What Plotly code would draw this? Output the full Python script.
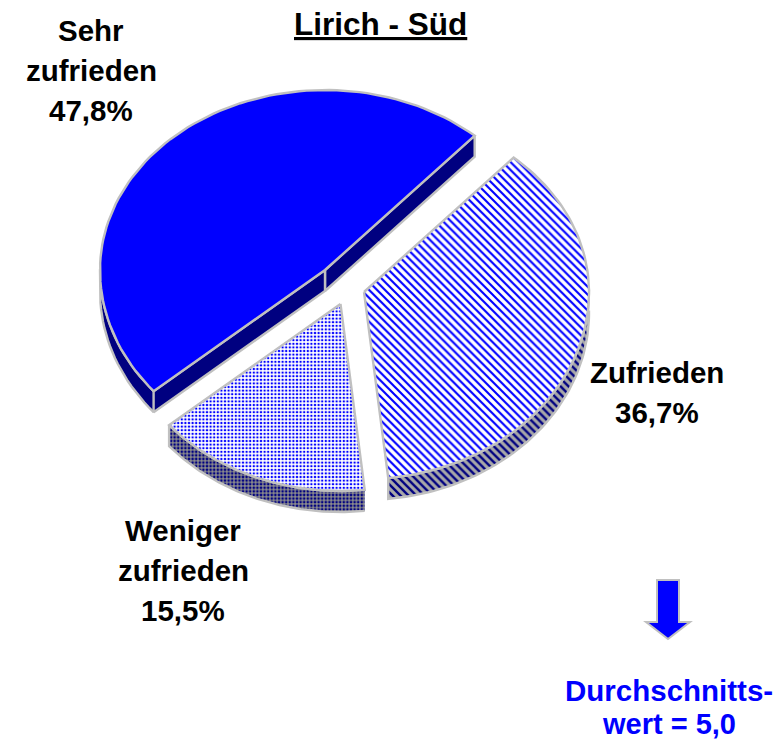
import numpy as np
import plotly.graph_objects as go

# --- data ---
categories = ["Sehr zufrieden", "Zufrieden", "Weniger zufrieden"]
values = [47.8, 36.7, 15.5]
value_labels = ["47,8%", "36,7%", "15,5%"]
title_text = "Lirich - Süd"
note_lines = ["Durchschnitts-", "wert = 5,0"]

# --- style / layout ---
W, H = 782, 741
RX, RY_BACK, RY_FRONT = 225, 180, 187
DEPTH = 21
START = 41.7 - 172.08           # clockwise start angle of the first slice
CENTRES = [(325, 270), (364, 292), (340.5, 304)]
EDGE = "#c0c0c0"
BLUE = "#0000ff"
NAVY = "#000080"
FONT = "Liberation Sans"

def pt(cx, cy, deg):
    t = np.radians(deg)
    c = np.cos(t)
    ry = np.where(c >= 0, RY_BACK, RY_FRONT)
    return cx + RX * np.sin(t), cy - ry * c

def poly(x, y, fill, pattern=None, width=2.4):
    kw = dict(fillpattern=pattern) if pattern else {}
    return go.Scatter(x=list(x), y=list(y), mode="lines", fill="toself", fillcolor=fill,
                      line=dict(color=EDGE, width=width), hoverinfo="skip",
                      showlegend=False, **kw)

fig = go.Figure()
top_patterns = [
    None,
    dict(shape="\\", size=5.6, solidity=0.38, fgcolor=BLUE, bgcolor="white", fillmode="replace"),
    dict(shape=".", size=3.6, solidity=0.36, fgcolor=BLUE, bgcolor="white", fillmode="replace"),
]
side_patterns = [
    None,
    dict(shape="\\", size=5.6, solidity=0.42, fgcolor=NAVY, bgcolor="#a8a8a8", fillmode="replace"),
    dict(shape=".", size=3.6, solidity=0.42, fgcolor=NAVY, bgcolor="#8c8c8c", fillmode="replace"),
]

a = START
tops = []
for i, v in enumerate(values):
    span = v / sum(values) * 360
    a0, a1 = a, a + span
    a = a1
    cx, cy = CENTRES[i]
    ang = np.linspace(a0, a1, 90)
    ax, ay = pt(cx, cy, ang)

    # outer rim: only the front half of the ellipse can be seen
    vis = ang[np.cos(np.radians(ang)) <= 0.02]
    if len(vis):
        rx_, ry_ = pt(cx, cy, vis)
        xs = np.r_[rx_, rx_[::-1]]
        ys = np.r_[ry_, ry_[::-1] + DEPTH]
        fig.add_trace(poly(xs, ys, NAVY, side_patterns[i]))

    # the cut faces of the large slice, both turned to the viewer
    if i == 0:
        for ex, ey in ((ax[-1], ay[-1]), (ax[0], ay[0])):
            fig.add_trace(poly([cx, ex, ex, cx, cx],
                               [cy, ey, ey + DEPTH, cy + DEPTH, cy], NAVY))

    tops.append(poly(np.r_[cx, ax, cx], np.r_[cy, ay, cy],
                     BLUE if i == 0 else "white", top_patterns[i]))

for t in tops:
    fig.add_trace(t)

def text(x, y, s, color="black", size=29.5):
    fig.add_annotation(x=x, y=y, text=f"<b>{s}</b>", showarrow=False, xanchor="center",
                       yanchor="middle", font=dict(family=FONT, size=size, color=color))

text(380.5, 24, f"<u>{title_text}</u>", size=31.5)

parts = ["Sehr\nzufrieden", "Zufrieden", "Weniger\nzufrieden"]
label_x = [91, 657, 183]
label_first_y = [30, 372, 530]
for s, val, lx, ly in zip(parts, value_labels, label_x, label_first_y):
    for k, line in enumerate(s.split("\n") + [val]):
        text(lx, ly + 40 * k, line)

text(669, 690, note_lines[0], BLUE)
text(669, 723.5, note_lines[1], BLUE, size=29)

fig.add_shape(type="path", path="M 657 580 L 679 580 L 679 622 L 690 622 L 668 639 L 646 622 L 657 622 Z",
              fillcolor=BLUE, line=dict(color=EDGE, width=2), layer="above")

fig.update_xaxes(visible=False, range=[0, W], fixedrange=True)
fig.update_yaxes(visible=False, range=[H, 0], fixedrange=True)
fig.update_layout(width=W, height=H, margin=dict(l=0, r=0, t=0, b=0),
                  plot_bgcolor="white", paper_bgcolor="white", showlegend=False)
fig.write_html("out.html", config={"displayModeBar": False},
               post_script="document.body.style.margin='0';document.documentElement.style.overflow='hidden';")
